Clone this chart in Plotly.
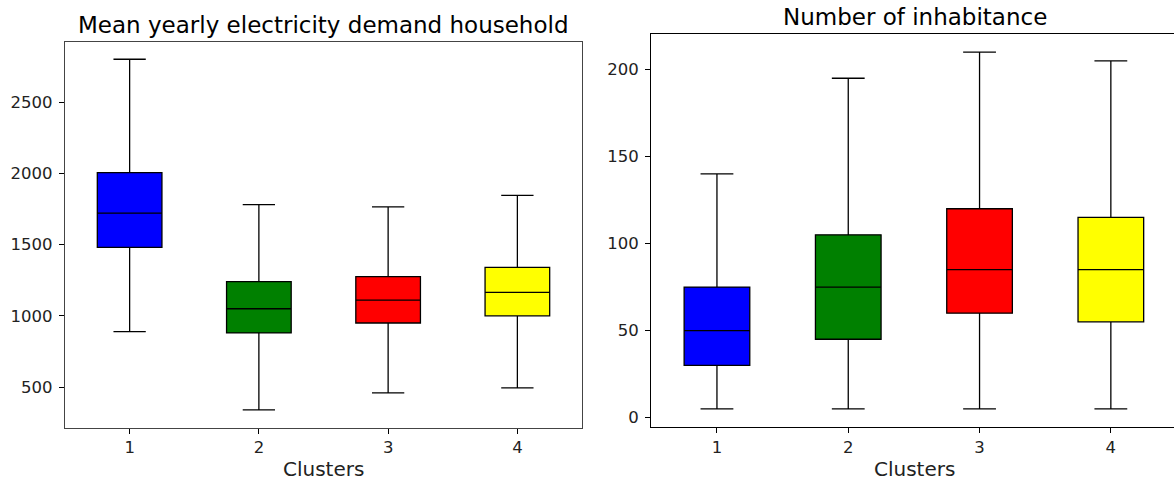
import plotly.graph_objects as go

W, H = 1174, 482

clusters = [1, 2, 3, 4]
colors = ["#0000ff", "#008000", "#ff0000", "#ffff00"]

# Mean yearly electricity demand per household (box statistics per cluster)
demand_low = [890, 340, 460, 495]
demand_q1 = [1480, 880, 950, 1000]
demand_median = [1720, 1050, 1110, 1165]
demand_q3 = [2005, 1240, 1275, 1340]
demand_high = [2800, 1780, 1765, 1845]

# Number of inhabitants (box statistics per cluster)
inhab_low = [5, 5, 5, 5]
inhab_q1 = [30, 45, 60, 55]
inhab_median = [50, 75, 85, 85]
inhab_q3 = [75, 105, 120, 115]
inhab_high = [140, 195, 210, 205]

demand_ticks = [500, 1000, 1500, 2000, 2500]
inhab_ticks = [0, 50, 100, 150, 200]

fig = go.Figure()


def add_boxes(low, q1, med, q3, high, xa, ya):
    for i, c in enumerate(clusters):
        fig.add_trace(go.Box(
            x=[c], lowerfence=[low[i]], q1=[q1[i]], median=[med[i]],
            q3=[q3[i]], upperfence=[high[i]],
            width=0.5, whiskerwidth=0.5, fillcolor=colors[i],
            line=dict(color="black", width=1.3), boxpoints=False,
            showlegend=False, xaxis=xa, yaxis=ya,
        ))


add_boxes(demand_low, demand_q1, demand_median, demand_q3, demand_high, "x", "y")
add_boxes(inhab_low, inhab_q1, inhab_median, inhab_q3, inhab_high, "x2", "y2")

font = dict(family="DejaVu Sans", color="black")
tickfont = dict(family="DejaVu Sans", size=16.5, color="#222")

common_x = dict(tickmode="array", tickvals=clusters, ticktext=[str(c) for c in clusters],
                ticks="outside", ticklen=5, tickwidth=1, tickcolor="black",
                tickfont=tickfont, showgrid=False, zeroline=False, ticklabelstandoff=0)
common_y = dict(ticks="outside", ticklen=5, tickwidth=1, tickcolor="black",
                tickfont=tickfont, showgrid=False, zeroline=False, ticklabelstandoff=3)

x1_dom = [65 / W, 582 / W]
y1_dom = [1 - 427.5 / H, 1 - 41.7 / H]
x2_dom = [651.3 / W, 1.0]
y2_dom = [1 - 426.7 / H, 1 - 34.3 / H]

fig.update_layout(
    width=W, height=H, margin=dict(l=0, r=0, t=0, b=0),
    paper_bgcolor="white", plot_bgcolor="white", font=font,
    xaxis=dict(domain=x1_dom, range=[0.5, 4.5], anchor="y",
               showline=True, linecolor="#444", linewidth=1.3, mirror=True, **common_x),
    yaxis=dict(domain=y1_dom, range=[217, 2923], anchor="x",
               tickvals=demand_ticks,
               showline=True, linecolor="#444", linewidth=1.3, mirror=True, **common_y),
    xaxis2=dict(domain=x2_dom, range=[0.5, 0.5 + (W - 651.3) / 131.3], anchor="y2",
                showline=True, linecolor="black", linewidth=1.3, mirror=True, **common_x),
    yaxis2=dict(domain=y2_dom, range=[-5.25, 220.25], anchor="x2",
                tickvals=inhab_ticks,
                showline=True, linecolor="black", linewidth=1.3, mirror=False, **common_y),
)

# Titles and axis labels
fig.add_annotation(text="Mean yearly electricity demand household", x=323.5 / W, y=1 - 25 / H,
                   xref="paper", yref="paper", showarrow=False,
                   font=dict(family="DejaVu Sans", size=23, color="black"),
                   xanchor="center", yanchor="middle")
fig.add_annotation(text="Number of inhabitance", x=914.5 / W, y=1 - 17.5 / H,
                   xref="paper", yref="paper", showarrow=False,
                   font=dict(family="DejaVu Sans", size=23, color="black"),
                   xanchor="center", yanchor="middle")
fig.add_annotation(text="Clusters", x=323.5 / W, y=1 - 469 / H,
                   xref="paper", yref="paper", showarrow=False,
                   font=dict(family="DejaVu Sans", size=20, color="#222"),
                   xanchor="center", yanchor="middle")
fig.add_annotation(text="Clusters", x=914.5 / W, y=1 - 469 / H,
                   xref="paper", yref="paper", showarrow=False,
                   font=dict(family="DejaVu Sans", size=20, color="#222"),
                   xanchor="center", yanchor="middle")

fig.write_html("out.html")
